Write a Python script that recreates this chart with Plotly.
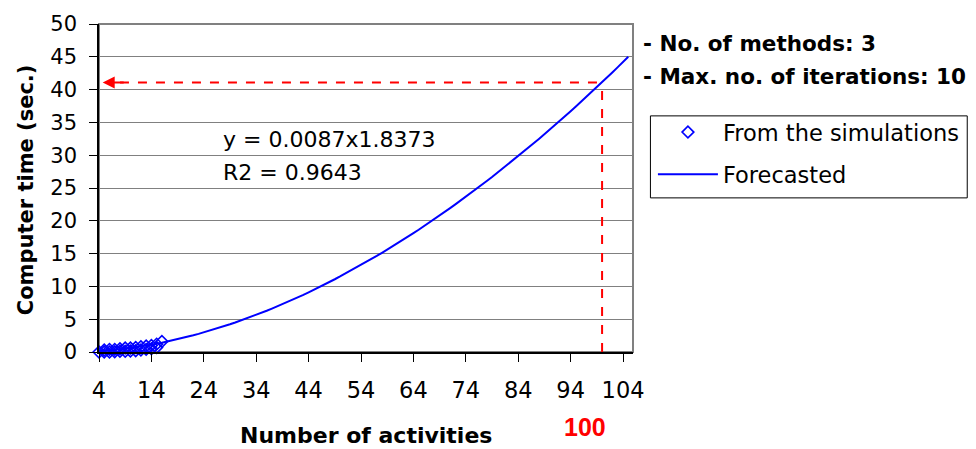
import plotly.graph_objects as go

# ---- data ----
sim_x = [5, 6, 7, 8, 9, 10, 11, 12, 13, 14, 15, 16,
         4, 5, 6, 7, 8, 9, 10, 11, 12, 13, 14, 15]
sim_y = [0.3, 0.4, 0.4, 0.5, 0.6, 0.6, 0.7, 0.8, 0.9, 1.0, 1.2, 1.6,
         0.0, 0.0, 0.0, 0.05, 0.1, 0.1, 0.15, 0.2, 0.3, 0.4, 0.5, 0.7]

fc_x = list(range(4, 106))
fc_y = [0.11, 0.17, 0.23, 0.31, 0.40, 0.49, 0.60, 0.71, 0.84, 0.97,
        1.11, 1.26, 1.42, 1.59, 1.76, 1.95, 2.14, 2.34, 2.55, 2.76,
        2.99, 3.22, 3.46, 3.71, 3.97, 4.23, 4.50, 4.78, 5.07, 5.36,
        5.67, 5.98, 6.29, 6.62, 6.95, 7.29, 7.64, 7.99, 8.36, 8.72,
        9.10, 9.48, 9.87, 10.27, 10.68, 11.09, 11.51, 11.94, 12.37, 12.81,
        13.26, 13.71, 14.18, 14.64, 15.12, 15.60, 16.09, 16.59, 17.09, 17.60,
        18.12, 18.64, 19.17, 19.71, 20.25, 20.80, 21.36, 21.93, 22.50, 23.07,
        23.66, 24.25, 24.84, 25.45, 26.06, 26.67, 27.30, 27.93, 28.56, 29.20,
        29.86, 30.52, 31.17, 31.85, 32.52, 33.20, 33.89, 34.59, 35.29, 36.00,
        36.71, 37.43, 38.16, 38.89, 39.63, 40.38, 41.14, 41.89, 42.66, 43.43,
        44.21, 45.00]

x_ticks = [4, 14, 24, 34, 44, 54, 64, 74, 84, 94, 104]
y_ticks = [0, 5, 10, 15, 20, 25, 30, 35, 40, 45, 50]

target_x = 100
target_y = 41.1

FONT = "DejaVu Sans"
FONT_ARIAL = "Liberation Sans, Arial, sans-serif"

# plot-area pixel geometry
L, R, T, B = 99, 635, 20, 352
W, H = R - L, B - T


def px(x):
    return (x - L) / W


def py(y):
    return (B - y) / H


fig = go.Figure()
fig.add_trace(go.Scatter(
    x=sim_x, y=sim_y, mode="markers", name="From the simulations",
    marker=dict(symbol="diamond-open", size=9, color="#0000FF",
                line=dict(width=1.6, color="#0000FF")),
    legendgroup="a", cliponaxis=False))
fig.add_trace(go.Scatter(
    x=fc_x, y=fc_y, mode="lines", name="Forecasted",
    line=dict(color="#0000FF", width=2),
    legendgroup="b"))

# red dashed guide lines
fig.add_shape(type="line", x0=target_x, x1=target_x, y0=0, y1=target_y,
              xref="x", yref="y", line=dict(color="#FF0000", width=2, dash="dash"))
fig.add_shape(type="line", x0=8, x1=target_x, y0=target_y, y1=target_y,
              xref="x", yref="y", line=dict(color="#FF0000", width=2, dash="dash"))
fig.add_annotation(x=4.7, y=target_y, ax=9, ay=target_y, axref="x", ayref="y",
                   xref="x", yref="y", text="", showarrow=True,
                   arrowhead=2, arrowsize=1.2, arrowwidth=2, arrowcolor="#FF0000")

# plot-area frame (gray top/right)
fig.add_shape(type="rect", xref="paper", yref="paper", x0=0, x1=1, y0=0, y1=1,
              line=dict(color="#808080", width=2), layer="below")

# legend box
fig.add_shape(type="rect", xref="paper", yref="paper",
              x0=px(652.5), x1=px(970.5), y0=py(196), y1=py(113),
              line=dict(color="black", width=1))

eq_font = dict(family=FONT, size=22, color="black")
bold_font = dict(family=FONT, size=21.5, color="black")
fig.add_annotation(x=px(221), y=py(137), xref="paper", yref="paper",
                   text="y = 0.0087x1.8373", showarrow=False, xanchor="left",
                   yanchor="middle", font=eq_font)
fig.add_annotation(x=px(221), y=py(170), xref="paper", yref="paper",
                   text="R2 = 0.9643", showarrow=False, xanchor="left",
                   yanchor="middle", font=eq_font)
fig.add_annotation(x=px(643), y=py(40), xref="paper", yref="paper",
                   text="<b>- No. of methods: 3</b>", showarrow=False, xanchor="left",
                   yanchor="middle", font=bold_font)
fig.add_annotation(x=px(643), y=py(73), xref="paper", yref="paper",
                   text="<b>- Max. no. of iterations: 10</b>", showarrow=False, xanchor="left",
                   yanchor="middle", font=bold_font)
fig.add_annotation(x=px(367), y=py(437), xref="paper", yref="paper",
                   text="<b>Number of activities</b>", showarrow=False, xanchor="center",
                   yanchor="middle", font=dict(family=FONT, size=22, color="black"))
fig.add_annotation(x=px(587), y=py(428), xref="paper", yref="paper",
                   text="<b>100</b>", showarrow=False, xanchor="center",
                   yanchor="middle", font=dict(family=FONT_ARIAL, size=25, color="#FF0000"))
fig.add_annotation(x=px(26), y=py(188), xref="paper", yref="paper",
                   text="<b>Computer time (sec.)</b>", showarrow=False, textangle=-90,
                   xanchor="center", yanchor="middle",
                   font=dict(family=FONT, size=21, color="black"))

fig.update_layout(
    width=976, height=449,
    margin=dict(l=L, r=976 - R, t=T, b=449 - B),
    paper_bgcolor="white", plot_bgcolor="white",
    showlegend=True,
    legend=dict(x=px(655), y=py(108), xanchor="left", yanchor="top",
                font=dict(family=FONT, size=22.5, color="black"),
                bgcolor="rgba(0,0,0,0)", borderwidth=0, itemwidth=60,
                traceorder="grouped", tracegroupgap=10),
    xaxis=dict(range=[4, 105.9], tickvals=x_ticks, ticktext=[str(v) for v in x_ticks],
               showgrid=False, zeroline=False, showline=True, linecolor="black",
               linewidth=1.5, ticks="outside", ticklen=8, tickcolor="black",
               ticklabelstandoff=9,
               tickfont=dict(family=FONT, size=22.5, color="black")),
    yaxis=dict(range=[0, 50], tickvals=y_ticks, showgrid=True, gridcolor="#808080",
               gridwidth=1, zeroline=False, showline=True, linecolor="black",
               linewidth=1.5, ticks="outside", ticklen=8, tickcolor="black",
               ticklabelstandoff=8,
               tickfont=dict(family=FONT, size=21, color="black")),
)

fig.write_html("out.html")
